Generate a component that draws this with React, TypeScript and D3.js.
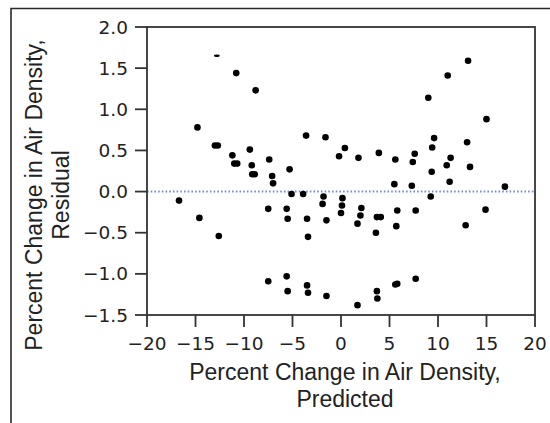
import React from 'react';
import * as d3 from 'd3';

// predicted change (%) and residual
const predicted = [
  -16.7, -14.8, -14.6, -13.0, -12.7, -12.6, -11.2, -11.0, -10.7, -10.8,
  -9.4, -9.2, -9.15, -8.9, -8.8, -7.4, -7.1, -7.0, -7.5, -7.5,
  -5.3, -5.1, -5.6, -5.5, -5.6, -5.5, -3.9, -3.6, -3.5, -3.4,
  -3.5, -3.4, -1.6, -1.8, -1.9, -1.5, -1.5, -0.2, 0.4, 0.15,
  0.1, 0.0, 1.8, 2.1, 2.0, 1.7, 1.7, 3.9, 3.7, 4.1,
  3.6, 3.7, 3.75, 5.6, 5.5, 5.8, 5.7, 5.6, 5.8, 7.6,
  7.4, 7.3, 7.7, 7.7, 9.0, 9.6, 9.4, 9.35, 9.25, 10.9,
  11.3, 11.2, 11.0, 13.1, 13.0, 13.3, 12.85, 15.0, 14.9, 16.9,
];
const residual = [
  -0.11, 0.78, -0.32, 0.56, 0.56, -0.54, 0.44, 0.34, 0.34, 1.44,
  0.51, 0.32, 0.21, 0.21, 1.23, 0.39, 0.19, 0.10, -0.21, -1.09,
  0.27, -0.03, -0.21, -0.33, -1.03, -1.21, -0.03, 0.68, -0.33, -0.55,
  -1.14, -1.23, 0.66, -0.06, -0.15, -0.35, -1.27, 0.43, 0.53, -0.08,
  -0.17, -0.26, 0.41, -0.20, -0.29, -0.39, -1.38, 0.47, -0.31, -0.31,
  -0.50, -1.21, -1.30, 0.39, 0.09, -0.23, -0.42, -1.13, -1.12, 0.46,
  0.36, 0.07, -0.23, -1.06, 1.14, 0.65, 0.535, 0.24, -0.06, 0.32,
  0.41, 0.12, 1.41, 1.59, 0.60, 0.30, -0.41, 0.88, -0.22, 0.06,
];
// a marker that is only half drawn near the top
const partialX = [-12.8];
const partialY = [1.65];

const xTicks = [-20, -15, -10, -5, 0, 5, 10, 15, 20];
const yTicks = [-1.5, -1.0, -0.5, 0.0, 0.5, 1.0, 1.5, 2.0];

const xLabel = ['Percent Change in Air Density,', 'Predicted'];
const yLabel = ['Percent Change in Air Density,', 'Residual'];

export default function App() {
  const width = 550;
  const height = 423;
  const left = 147, right = 535, top = 27, bottom = 315;

  const x = d3.scaleLinear().domain([-20, 20]).range([left, right]);
  const y = d3.scaleLinear().domain([-1.5, 2]).range([bottom, top]);
  const fmt = d3.format('.1f');

  const axisColor = '#333';
  const textColor = '#222';
  const tickFont = "'DejaVu Sans', sans-serif";
  const labelFont = "'Liberation Sans', Arial, sans-serif";

  return (
    <svg width={width} height={height} style={{position: 'absolute', left: 0, top: 0}}>
      <rect x={0} y={0} width={width} height={height} fill="#fff" />
      {/* outer frame */}
      <path d={`M11,${height} L11,8.5 L${width},8.5`} fill="none" stroke="#2a2a2a" strokeWidth={1.6} />

      {/* zero line */}
      <line x1={left} x2={right} y1={y(0)} y2={y(0)} stroke="#6d8fd6" strokeWidth={2} strokeDasharray="1.6 2.1" />

      {/* points */}
      {predicted.map((d, i) => (
        <circle key={i} cx={x(d)} cy={y(residual[i])} r={3.3} fill="#000" />
      ))}
      {partialX.map((d, i) => (
        <ellipse key={'p' + i} cx={x(d)} cy={y(partialY[i])} rx={3} ry={1.2} fill="#000" />
      ))}

      {/* plot box */}
      <rect x={left} y={top} width={right - left} height={bottom - top} fill="none" stroke={axisColor} strokeWidth={1.8} />

      {/* x axis */}
      {xTicks.map(t => (
        <g key={'x' + t}>
          <line x1={x(t)} x2={x(t)} y1={bottom} y2={bottom + 12} stroke={axisColor} strokeWidth={1.8} />
          <text x={x(t)} y={350} textAnchor="middle" fontFamily={tickFont} fontSize={18.5} fill={textColor}>
            {d3.format('d')(t)}
          </text>
        </g>
      ))}

      {/* y axis */}
      {yTicks.map(t => (
        <g key={'y' + t}>
          <line x1={left - 12} x2={left} y1={y(t)} y2={y(t)} stroke={axisColor} strokeWidth={1.8} />
          <text x={128} y={y(t) + 6.5} textAnchor="end" fontFamily={tickFont} fontSize={18.5} fill={textColor}>
            {fmt(t)}
          </text>
        </g>
      ))}

      {/* axis titles */}
      {xLabel.map((s, i) => (
        <text key={'xl' + i} x={345} y={380 + i * 27} textAnchor="middle" fontFamily={labelFont} fontSize={23} fill={textColor}>
          {s}
        </text>
      ))}
      {yLabel.map((s, i) => (
        <text key={'yl' + i} transform={`translate(${42 + i * 26.5},195) rotate(-90)`} textAnchor="middle" fontFamily={labelFont} fontSize={23} fill={textColor}>
          {s}
        </text>
      ))}
    </svg>
  );
}
